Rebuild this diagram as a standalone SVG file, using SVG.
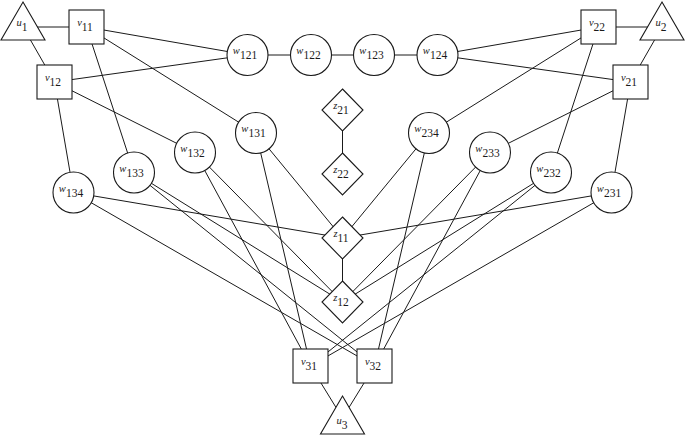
<svg xmlns="http://www.w3.org/2000/svg" width="685" height="435" viewBox="0 0 685 435">
<style>
.n{fill:#fff;stroke:#1a1a1a;stroke-width:1.1}
.e line{stroke:#1a1a1a;stroke-width:1}
text{font-family:"Liberation Serif","Times New Roman",serif;font-size:11.5px;fill:#1a1a1a;text-anchor:middle}
.l{font-style:italic;font-size:10.5px}
</style>
<rect width="685" height="435" fill="#fff"/>
<g id="edges" class="e">
<line x1="23" y1="27" x2="86.5" y2="27"/>
<line x1="23" y1="27" x2="54.5" y2="82"/>
<line x1="662" y1="27" x2="598.5" y2="27"/>
<line x1="662" y1="27" x2="630.5" y2="82"/>
<line x1="342.5" y1="418" x2="310.5" y2="366"/>
<line x1="342.5" y1="418" x2="374.5" y2="366"/>
<line x1="86.5" y1="27" x2="247.5" y2="55"/>
<line x1="54.5" y1="82" x2="247.5" y2="55"/>
<line x1="86.5" y1="27" x2="256" y2="133"/>
<line x1="86.5" y1="27" x2="134" y2="172.5"/>
<line x1="54.5" y1="82" x2="195" y2="152.5"/>
<line x1="54.5" y1="82" x2="73.5" y2="192.5"/>
<line x1="598.5" y1="27" x2="437.5" y2="55"/>
<line x1="630.5" y1="82" x2="437.5" y2="55"/>
<line x1="598.5" y1="27" x2="429" y2="133"/>
<line x1="598.5" y1="27" x2="551" y2="172.5"/>
<line x1="630.5" y1="82" x2="490" y2="152.5"/>
<line x1="630.5" y1="82" x2="611.5" y2="192.5"/>
<line x1="247.5" y1="55" x2="437.5" y2="55"/>
<line x1="342.5" y1="110" x2="342.5" y2="174"/>
<line x1="342.5" y1="238" x2="342.5" y2="302"/>
<line x1="256" y1="133" x2="342.5" y2="238"/>
<line x1="256" y1="133" x2="310.5" y2="366"/>
<line x1="195" y1="152.5" x2="342.5" y2="302"/>
<line x1="195" y1="152.5" x2="310.5" y2="366"/>
<line x1="134" y1="172.5" x2="342.5" y2="302"/>
<line x1="134" y1="172.5" x2="374.5" y2="366"/>
<line x1="73.5" y1="192.5" x2="342.5" y2="238"/>
<line x1="73.5" y1="192.5" x2="374.5" y2="366"/>
<line x1="429" y1="133" x2="342.5" y2="238"/>
<line x1="429" y1="133" x2="374.5" y2="366"/>
<line x1="490" y1="152.5" x2="342.5" y2="302"/>
<line x1="490" y1="152.5" x2="374.5" y2="366"/>
<line x1="551" y1="172.5" x2="342.5" y2="302"/>
<line x1="551" y1="172.5" x2="310.5" y2="366"/>
<line x1="611.5" y1="192.5" x2="342.5" y2="238"/>
<line x1="611.5" y1="192.5" x2="310.5" y2="366"/>
</g>
<g id="u1"><polygon class="n" points="23,2 45,40 1,40"/><text x="22" y="26"><tspan class="l">u</tspan><tspan dy="5">1</tspan></text></g>
<g id="u2"><polygon class="n" points="662,2 684,40 640,40"/><text x="661" y="26"><tspan class="l">u</tspan><tspan dy="5">2</tspan></text></g>
<g id="u3"><polygon class="n" points="342.5,396 364.5,434 320.5,434"/><text x="342" y="424"><tspan class="l">u</tspan><tspan dy="5">3</tspan></text></g>
<g id="v11"><rect class="n" x="69" y="10" width="35" height="34"/><text x="85" y="26"><tspan class="l">v</tspan><tspan dy="5">11</tspan></text></g>
<g id="v12"><rect class="n" x="37" y="65" width="35" height="34"/><text x="53" y="81"><tspan class="l">v</tspan><tspan dy="5">12</tspan></text></g>
<g id="v22"><rect class="n" x="581" y="10" width="35" height="34"/><text x="597" y="26"><tspan class="l">v</tspan><tspan dy="5">22</tspan></text></g>
<g id="v21"><rect class="n" x="613" y="65" width="35" height="34"/><text x="629" y="81"><tspan class="l">v</tspan><tspan dy="5">21</tspan></text></g>
<g id="v31"><rect class="n" x="293" y="349" width="35" height="34"/><text x="309" y="365"><tspan class="l">v</tspan><tspan dy="5">31</tspan></text></g>
<g id="v32"><rect class="n" x="357" y="349" width="35" height="34"/><text x="373" y="365"><tspan class="l">v</tspan><tspan dy="5">32</tspan></text></g>
<g id="w121"><circle class="n" cx="247.5" cy="55" r="20.5"/><text x="245" y="54"><tspan class="l">w</tspan><tspan dy="5">121</tspan></text></g>
<g id="w122"><circle class="n" cx="311" cy="55" r="20.5"/><text x="308.5" y="54"><tspan class="l">w</tspan><tspan dy="5">122</tspan></text></g>
<g id="w123"><circle class="n" cx="374" cy="55" r="20.5"/><text x="371.5" y="54"><tspan class="l">w</tspan><tspan dy="5">123</tspan></text></g>
<g id="w124"><circle class="n" cx="437.5" cy="55" r="20.5"/><text x="435" y="54"><tspan class="l">w</tspan><tspan dy="5">124</tspan></text></g>
<g id="w131"><circle class="n" cx="256" cy="133" r="20.5"/><text x="253.5" y="132"><tspan class="l">w</tspan><tspan dy="5">131</tspan></text></g>
<g id="w132"><circle class="n" cx="195" cy="152.5" r="20.5"/><text x="192.5" y="151.5"><tspan class="l">w</tspan><tspan dy="5">132</tspan></text></g>
<g id="w133"><circle class="n" cx="134" cy="172.5" r="20.5"/><text x="131.5" y="171.5"><tspan class="l">w</tspan><tspan dy="5">133</tspan></text></g>
<g id="w134"><circle class="n" cx="73.5" cy="192.5" r="20.5"/><text x="71" y="191.5"><tspan class="l">w</tspan><tspan dy="5">134</tspan></text></g>
<g id="w234"><circle class="n" cx="429" cy="133" r="20.5"/><text x="426.5" y="132"><tspan class="l">w</tspan><tspan dy="5">234</tspan></text></g>
<g id="w233"><circle class="n" cx="490" cy="152.5" r="20.5"/><text x="487.5" y="151.5"><tspan class="l">w</tspan><tspan dy="5">233</tspan></text></g>
<g id="w232"><circle class="n" cx="551" cy="172.5" r="20.5"/><text x="548.5" y="171.5"><tspan class="l">w</tspan><tspan dy="5">232</tspan></text></g>
<g id="w231"><circle class="n" cx="611.5" cy="192.5" r="20.5"/><text x="609" y="191.5"><tspan class="l">w</tspan><tspan dy="5">231</tspan></text></g>
<g id="z21"><polygon class="n" points="342.5,89 363,110 342.5,131 322,110"/><text x="341" y="109"><tspan class="l">z</tspan><tspan dy="5">21</tspan></text></g>
<g id="z22"><polygon class="n" points="342.5,153 363,174 342.5,195 322,174"/><text x="341" y="173"><tspan class="l">z</tspan><tspan dy="5">22</tspan></text></g>
<g id="z11"><polygon class="n" points="342.5,217 363,238 342.5,259 322,238"/><text x="341" y="237"><tspan class="l">z</tspan><tspan dy="5">11</tspan></text></g>
<g id="z12"><polygon class="n" points="342.5,281 363,302 342.5,323 322,302"/><text x="341" y="301"><tspan class="l">z</tspan><tspan dy="5">12</tspan></text></g>
</svg>
